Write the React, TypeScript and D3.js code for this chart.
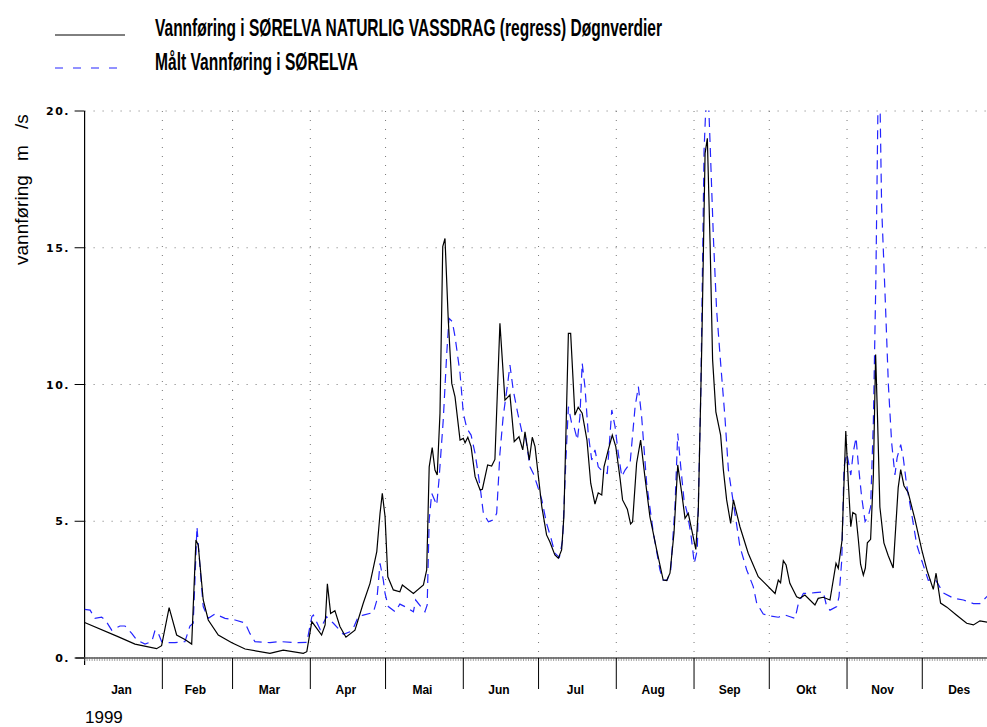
import React from "react";
import * as d3 from "d3";

// ---- data (day of year 1999, 0 = 1 Jan) ----
const regressDays = [
  0, 13.3, 20.1, 28.7, 30.7, 33.7, 36.7, 40.0, 42.7, 44.4,
  45.3, 47.3, 49.3, 53.3, 58.7, 64.0, 73.9, 79.2, 87.2, 88.6,
  90.6, 94.5, 95.9, 96.8, 98.1, 99.8, 101.8, 104.2, 107.8, 111.1,
  113.8, 116.5, 117.8, 118.7, 119.8, 120.9, 123.1, 125.7, 126.7, 131.1,
  135.1, 136.4, 137.4, 138.6, 139.7, 140.6, 141.7, 142.8, 143.7, 145.0,
  146.4, 147.7, 149.7, 151.0, 151.7, 152.8, 154.1, 155.7, 157.7, 158.6,
  160.7, 162.3, 163.6, 165.6, 167.6, 169.6, 171.3, 173.2, 174.7, 175.6,
  177.3, 178.5, 179.6, 182.3, 184.2, 185.5, 187.5, 188.9, 190.2, 191.1,
  192.9, 193.8, 195.5, 196.8, 198.4, 200.3, 201.8, 203.5, 204.8, 206.2,
  207.1, 208.8, 210.4, 211.8, 213.5, 214.5, 216.4, 217.7, 218.5, 220.1,
  221.7, 223.4, 225.4, 228.1, 230.7, 232.1, 233.4, 235.0, 236.5, 238.1,
  239.4, 240.7, 242.1, 243.7, 244.7, 246.1, 247.4, 248.3, 249.4, 250.4,
  251.7, 253.6, 254.7, 256.0, 257.6, 258.7, 261.3, 264.6, 268.6, 270.6,
  275.3, 276.6, 277.5, 278.6, 279.7, 281.2, 283.9, 285.2, 287.2, 291.2,
  292.5, 294.5, 297.2, 299.6, 300.5, 302.0, 303.5, 304.5, 305.5, 306.3,
  307.5, 308.5, 309.4, 310.5, 311.3, 312.1, 313.4, 314.5, 315.4, 316.2,
  317.1, 318.7, 320.4, 322.4, 324.4, 325.4, 326.7, 328.4, 331.1, 333.8,
  336.0, 338.4, 339.5, 341.3, 343.8, 347.6, 351.7, 354.4, 357.0, 359.8,
  364,
];
const regressValues = [
  1.30, 0.78, 0.51, 0.34, 0.45, 1.84, 0.84, 0.68, 0.51, 4.31,
  4.13, 2.12, 1.39, 0.84, 0.56, 0.33, 0.17, 0.29, 0.17, 0.23,
  1.33, 0.84, 1.21, 2.71, 1.63, 1.73, 1.15, 0.76, 1.02, 2.0,
  2.73, 3.89, 5.29, 6.02, 5.17, 2.97, 2.49, 2.42, 2.67, 2.36,
  2.67, 3.22, 6.99, 7.69, 6.87, 6.69, 8.95, 15.04, 15.34, 12.36,
  10.04, 9.55, 7.97, 8.03, 7.87, 8.07, 7.73, 6.63, 6.14, 6.17,
  7.06, 7.02, 7.26, 12.24, 9.43, 9.62, 7.91, 8.09, 7.61, 8.27,
  7.24, 8.07, 7.73, 5.53, 4.50, 4.25, 3.77, 3.65, 3.95, 5.17,
  11.87, 11.87, 8.88, 9.17, 8.95, 7.97, 6.39, 5.63, 6.04, 5.96,
  6.99, 7.61, 8.15, 7.73, 6.57, 5.78, 5.44, 4.90, 4.98, 7.12,
  7.97, 6.63, 5.17, 3.95, 2.85, 2.83, 3.10, 4.56, 7.06, 6.02,
  5.11, 5.29, 4.68, 3.97, 5.41, 11.5, 18.45, 19.0, 15.16, 10.9,
  9.0, 8.15, 6.87, 5.78, 4.92, 5.78, 4.80, 3.83, 2.97, 2.79,
  2.36, 2.85, 2.75, 3.56, 3.40, 2.73, 2.24, 2.18, 2.30, 1.94,
  2.18, 2.22, 2.12, 3.46, 3.28, 4.3, 8.3, 6.43, 4.80, 5.32,
  5.25, 4.34, 3.43, 3.03, 3.29, 4.21, 4.34, 6.69, 11.1, 8.65,
  5.52, 4.21, 3.75, 3.29, 6.23, 6.89, 6.30, 6.04, 5.06, 3.95,
  3.17, 2.51, 3.10, 2.01, 1.86, 1.57, 1.27, 1.21, 1.36, 1.31,
  1.30,
];

const maltDays = [
  0, 2.2, 4.1, 6.8, 8.1, 10.8, 14.1, 16.1, 18.8, 20.8,
  24.1, 26.8, 28.1, 29.4, 30.7, 32.7, 36.0, 40.0, 42.0, 43.3,
  44.0, 44.8, 46.0, 47.3, 49.3, 52.0, 56.0, 60.0, 64.0, 65.9,
  67.9, 73.9, 77.9, 85.2, 88.6, 90.6, 91.2, 93.9, 96.5, 99.2,
  103.2, 105.8, 107.1, 109.1, 111.1, 115.1, 116.5, 117.8, 119.1, 119.8,
  121.1, 123.8, 125.7, 128.4, 131.1, 132.0, 135.7, 136.6, 137.4, 138.4,
  140.4, 141.3, 143.0, 144.4, 145.3, 146.6, 147.7, 149.7, 151.0, 152.4,
  154.1, 155.7, 157.7, 159.0, 161.0, 163.0, 164.3, 165.6, 166.9, 168.7,
  169.6, 170.9, 172.7, 174.5, 175.9, 177.6, 178.9, 180.7, 182.3, 184.2,
  186.2, 187.5, 189.3, 190.6, 191.9, 192.9, 194.2, 195.1, 196.5, 197.5,
  198.4, 199.5, 200.8, 202.2, 203.5, 204.8, 206.6, 208.4, 210.2, 211.5,
  212.8, 214.2, 215.5, 217.5, 219.5, 220.8, 222.1, 224.1, 226.8, 229.4,
  230.7, 232.3, 233.7, 235.4, 236.5, 237.7, 239.0, 240.3, 241.7, 243.1,
  244.3, 245.7, 247.0, 248.3, 249.4, 250.7, 252.0, 253.6, 255.3, 256.7,
  258.7, 261.3, 264.0, 266.6, 268.0, 270.6, 273.3, 276.6, 279.3, 281.3,
  283.3, 284.6, 286.6, 288.6, 291.2, 294.5, 295.9, 297.2, 299.9, 300.8,
  301.9, 302.8, 303.9, 304.5, 305.5, 306.5, 307.6, 308.5, 309.8, 311.2,
  312.5, 313.4, 314.5, 315.5, 316.7, 317.8, 319.2, 320.5, 321.8, 323.1,
  324.0, 325.4, 326.4, 327.8, 329.8, 331.8, 333.8, 336.4, 339.0, 342.4,
  346.4, 350.4, 354.4, 357.0, 359.8, 364,
];
const maltValues = [
  1.78, 1.75, 1.45, 1.49, 1.41, 1.02, 1.17, 1.17, 0.90, 0.66,
  0.51, 0.60, 1.02, 0.90, 0.60, 0.56, 0.56, 0.60, 1.17, 1.27,
  2.85, 4.80, 3.34, 1.88, 1.45, 1.61, 1.45, 1.39, 1.28, 0.9,
  0.60, 0.56, 0.60, 0.56, 0.57, 1.51, 1.57, 1.05, 1.51, 1.27,
  0.87, 0.96, 1.08, 1.51, 1.57, 1.66, 2.1, 3.46, 2.85, 2.36,
  1.88, 1.69, 1.97, 1.85, 1.69, 2.12, 1.69, 1.94, 5.05, 6.02,
  5.59, 6.51, 8.70, 11.14, 12.42, 12.30, 11.75, 10.41, 8.95, 8.40,
  8.15, 7.48, 6.26, 5.29, 4.98, 5.05, 5.29, 7.48, 8.83, 10.04,
  10.71, 9.80, 8.95, 8.21, 8.03, 6.99, 6.75, 6.26, 5.78, 4.92,
  4.30, 3.83, 3.68, 4.31, 7.24, 9.19, 8.58, 8.46, 7.97, 8.83,
  10.78, 9.92, 8.21, 7.24, 7.61, 6.99, 6.81, 6.75, 9.07, 8.46,
  7.48, 6.63, 6.87, 7.12, 9.19, 9.92, 8.83, 6.39, 4.56, 3.22,
  2.85, 2.85, 3.22, 5.53, 8.21, 6.99, 5.78, 5.29, 4.56, 3.46,
  3.95, 9.68, 18.57, 21.5, 18.82, 15.4, 12.72, 10.78, 8.83, 6.87,
  5.66, 4.07, 3.22, 2.61, 2.0, 1.61, 1.54, 1.49, 1.57, 1.51,
  1.45, 2.0, 2.36, 2.36, 2.39, 2.42, 1.88, 1.75, 1.88, 2.24,
  3.58, 7.0, 7.47, 7.21, 6.69, 7.54, 8.06, 7.08, 5.91, 4.99,
  5.19, 5.52, 8.65, 13.87, 23, 16.49, 13.2, 9.96, 7.86, 6.69,
  7.34, 7.80, 7.34, 6.30, 5.25, 4.14, 3.56, 2.84, 2.90, 2.38,
  2.19, 2.12, 1.99, 1.99, 2.25, 2.3,
];

const monthStarts = [0, 31, 59, 90, 120, 151, 181, 212, 243, 273, 304, 334, 365];
const monthLabels = ["Jan", "Feb", "Mar", "Apr", "Mai", "Jun", "Jul", "Aug", "Sep", "Okt", "Nov", "Des"];
const yTicks = [0, 5, 10, 15, 20];
const yTickLabels = ["0.", "5.", "10.", "15.", "20."];
const yearLabel = "1999";
const legendLabels = [
  "Vannføring i SØRELVA NATURLIG VASSDRAG (regress) Døgnverdier",
  "Målt Vannføring i SØRELVA",
];

const W = 987;
const H = 727;
const X0 = 84.6;
const PX_PER_DAY = 2.508;
const Y_TOP = 111;
const Y_BOT = 658;

const narrow = "'Liberation Sans Narrow', 'Arial Narrow', 'Liberation Sans', sans-serif";

export default function App() {
  const x = d3.scaleLinear().domain([0, 365]).range([X0, X0 + 365 * PX_PER_DAY]);
  const y = d3.scaleLinear().domain([0, 20]).range([Y_BOT, Y_TOP]);

  const regress = d3.zip(regressDays, regressValues) as [number, number][];
  const malt = d3.zip(maltDays, maltValues) as [number, number][];
  const line = d3
    .line<[number, number]>()
    .x((d) => x(d[0]))
    .y((d) => y(d[1]));

  const dayTicks = d3.range(0, 365, 1);
  const blue = "#2424ff";

  return (
    <svg
      width={W}
      height={H}
      style={{ position: "absolute", left: 0, top: 0, background: "#fff" }}
    >
      <defs>
        <clipPath id="plotClip">
          <rect x={X0} y={Y_TOP - 0.5} width={W - X0} height={Y_BOT - Y_TOP + 1} />
        </clipPath>
      </defs>
      <rect x={0} y={0} width={W} height={H} fill="#fff" />

      {/* legend */}
      <line x1={55} x2={125} y1={35} y2={35} stroke="#000" strokeWidth={1} />
      <text
        x={155}
        y={36}
        fontFamily={narrow}
        fontWeight="bold"
        fontSize={23}
        textLength={507}
        lengthAdjust="spacingAndGlyphs"
      >
        {legendLabels[0]}
      </text>
      <line x1={55} x2={125} y1={68} y2={68} stroke={blue} strokeWidth={1} strokeDasharray="8,10" />
      <text
        x={155}
        y={70}
        fontFamily={narrow}
        fontWeight="bold"
        fontSize={23}
        textLength={203}
        lengthAdjust="spacingAndGlyphs"
      >
        {legendLabels[1]}
      </text>

      {/* y label */}
      <text
        transform="translate(28,265) rotate(-90)"
        fontFamily="'Liberation Sans', Arial, sans-serif"
        fontSize={19}
      >
        <tspan x={0}>vannføring</tspan>
        <tspan x={104}>m</tspan>
        <tspan x={136}>/s</tspan>
      </text>

      {/* grid */}
      {yTicks.filter((t) => t > 0).map((t) => (
        <line
          key={"hg" + t}
          x1={X0}
          x2={W}
          y1={y(t)}
          y2={y(t)}
          stroke="#777"
          strokeWidth={1}
          strokeDasharray="1,8"
        />
      ))}
      {monthStarts.slice(1, 12).map((m) => (
        <line
          key={"vg" + m}
          x1={x(m)}
          x2={x(m)}
          y1={Y_TOP}
          y2={Y_BOT}
          stroke="#777"
          strokeWidth={1}
          strokeDasharray="1,8"
        />
      ))}

      {/* y axis */}
      <line x1={X0} x2={X0} y1={Y_TOP} y2={Y_BOT + 7} stroke="#000" strokeWidth={1.2} />
      {yTicks.map((t, i) => (
        <g key={"yt" + t}>
          <line x1={X0 - 10} x2={X0} y1={y(t)} y2={y(t)} stroke="#000" strokeWidth={1} />
          <text
            x={70}
            y={y(t) + 4}
            textAnchor="end"
            fontFamily="'DejaVu Sans', sans-serif"
            fontWeight="bold"
            fontSize={11}
            letterSpacing={1.5}
          >
            {yTickLabels[i]}
          </text>
        </g>
      ))}

      {/* x axis */}
      <line x1={X0 - 9} x2={W} y1={Y_BOT} y2={Y_BOT} stroke="#000" strokeWidth={1.2} />
      {dayTicks.map((d) => (
        <line
          key={"dt" + d}
          x1={x(d)}
          x2={x(d)}
          y1={Y_BOT - 1}
          y2={Y_BOT + 3}
          stroke="#666"
          strokeWidth={0.6}
        />
      ))}
      {monthStarts.slice(1, 12).map((m) => (
        <line key={"mt" + m} x1={x(m)} x2={x(m)} y1={Y_BOT} y2={Y_BOT + 31} stroke="#000" strokeWidth={1} />
      ))}
      {monthLabels.map((lab, i) => (
        <text
          key={lab}
          x={x((monthStarts[i] + monthStarts[i + 1]) / 2) - 2}
          y={694}
          textAnchor="middle"
          fontFamily={narrow}
          fontWeight="bold"
          fontSize={12}
        >
          {lab}
        </text>
      ))}
      <text x={85} y={723} fontFamily={narrow} fontSize={17}>
        {yearLabel}
      </text>

      {/* series */}
      <g clipPath="url(#plotClip)">
        <path d={line(malt) || ""} fill="none" stroke={blue} strokeWidth={1.2} strokeDasharray="9,6" />
        <path d={line(regress) || ""} fill="none" stroke="#000" strokeWidth={1.2} />
      </g>
    </svg>
  );
}
